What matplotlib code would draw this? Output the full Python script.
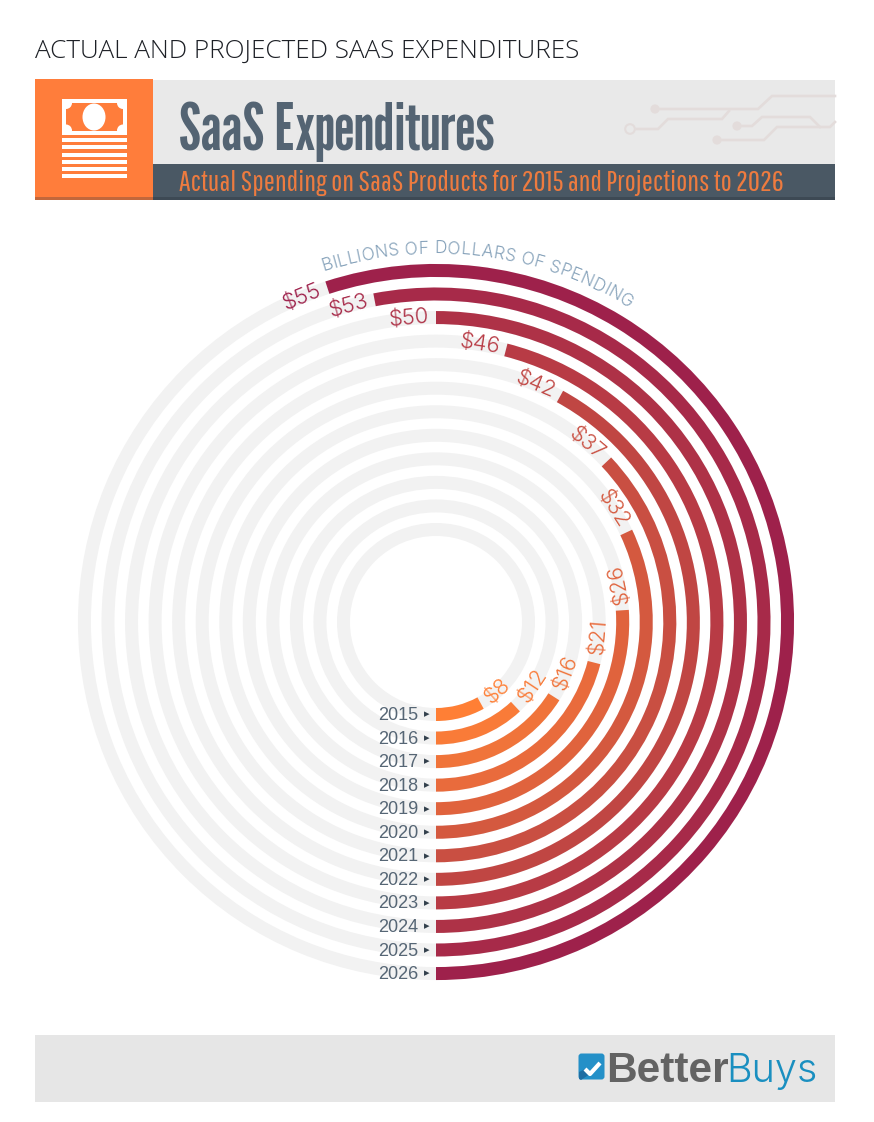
import numpy as np
import matplotlib
matplotlib.use("Agg")
import matplotlib.pyplot as plt
from matplotlib.patches import Rectangle, Ellipse, Circle, FancyBboxPatch, Polygon

W, H = 874, 1122
DPI = 100

years = [2015, 2016, 2017, 2018, 2019, 2020, 2021, 2022, 2023, 2024, 2025, 2026]
spending = [8, 12, 16, 21, 26, 32, 37, 42, 46, 50, 53, 55]
ring_colors = ["#ff7f35", "#f97b38", "#f0743a", "#e96b3c", "#e0633d", "#d4593f",
               "#c94f42", "#c04643", "#b83b45", "#ae3247", "#a72a49", "#9e214b"]

PAGE_TITLE = "ACTUAL AND PROJECTED SAAS EXPENDITURES"
HEAD = "SaaS Expenditures"
SUBHEAD = "Actual Spending on SaaS Products for 2015 and Projections to 2026"
ARC_TITLE = "BILLIONS OF DOLLARS OF SPENDING"

CX, CY = 436, 622
RMAX = 400
R0 = 92.5
STEP = 23.55
RING_W = 13.0
LIGHT = ["Inter", "Liberation Sans"]

fig = plt.figure(figsize=(W / DPI, H / DPI), dpi=DPI, facecolor="white")

# page furniture is laid out in pixels, y downwards
bg = fig.add_axes([0, 0, 1, 1])
bg.set_xlim(0, W)
bg.set_ylim(H, 0)
bg.axis("off")


def rect(x0, y0, x1, y1, color):
    return bg.add_patch(Rectangle((x0, y0), x1 - x0, y1 - y0, fc=color, ec="none"))


bg.text(35, 58, PAGE_TITLE, fontsize=18.8, family="Open Sans", fontweight=300,
        color="#1d2026", va="baseline")

# header band
rect(35, 80, 835, 164, "#e9e9e9")
rect(153, 164, 835, 198, "#4a5864")
rect(153, 197, 835, 200, "#3d4954")
rect(35, 79, 153, 197, "#ff7d3b")
rect(35, 197, 153, 200, "#c2673b")

# circuit decoration
for xs, ys in [
    ([655, 758, 772, 835], [109, 109, 96, 96]),
    ([637, 658, 668, 722, 729], [129, 129, 119, 119, 111]),
    ([737, 752, 762, 810, 820], [126, 126, 117, 117, 127]),
    ([717, 764, 777, 830, 835], [140, 140, 127, 127, 122]),
]:
    bg.plot(xs, ys, color="#e3dcdb", lw=1.9, solid_joinstyle="miter")
for x, y in [(655, 109), (737, 126), (717, 140)]:
    bg.add_patch(Circle((x, y), 4.6, fc="#e3dcdb", ec="none"))
bg.add_patch(Circle((630, 129), 4.8, fc="#e9e9e9", ec="#e3dcdb", lw=1.5))

# money icon
rect(62, 99, 127, 135, "white")
note = rect(66, 103, 123, 130.5, "#ff7d3b")
for x, y in [(66, 103), (123, 103), (66, 130.5), (123, 130.5)]:
    c = bg.add_patch(Circle((x, y), 6, fc="white", ec="none"))
    c.set_clip_path(note)
bg.add_patch(Ellipse((94, 117), 23, 27, fc="white", ec="none"))
for y in [140, 147, 155, 162, 169, 176]:
    rect(62, y - 1.6, 127, y + 1.6, "white")

bg.text(179, 150, HEAD, fontsize=46.7, family=["League Gothic", "Liberation Sans"],
        color="#546473", va="baseline")
bg.text(179, 191, SUBHEAD, fontsize=21.2, family=["Pathway Gothic One", "Liberation Sans"],
        color="#ee7b3f", va="baseline")

# footer with logo
rect(35, 1035, 835, 1102, "#e6e6e6")
bg.add_patch(FancyBboxPatch((580, 1055), 23, 23, boxstyle="round,pad=1.5,rounding_size=3",
                            fc="#2490c8", ec="none"))
bg.add_patch(Polygon([(579, 1072), (585, 1069), (590, 1074), (581, 1080), (579, 1079)],
                     fc="#1f6ea3", ec="none"))
bg.plot([585, 590, 600], [1069, 1074, 1063], color="white", lw=3, solid_capstyle="butt")
bg.text(606, 1082, "Better", fontsize=30.6, family="Liberation Sans", fontweight="bold",
        color="#636363", va="baseline")
bg.text(726, 1082, "Buys", fontsize=28.5, family=LIGHT, fontweight=300, color="#1a8fc0", va="baseline")

# radial chart
ax = fig.add_axes([(CX - RMAX) / W, (H - CY - RMAX) / H, 2 * RMAX / W, 2 * RMAX / H],
                  projection="polar")
ax.set_theta_zero_location("S")
ax.set_theta_direction(1)
ax.set_rlim(0, RMAX)
ax.grid(False)
ax.set_xticks([])
ax.set_yticks([])
ax.spines["polar"].set_visible(False)
ax.patch.set_visible(False)

for i, (year, val, col) in enumerate(zip(years, spending, ring_colors)):
    r = R0 + i * STEP
    end = np.deg2rad(val * 3.6)
    ax.bar(np.pi, RING_W, width=2 * np.pi, bottom=r - RING_W / 2, color="#f2f2f2", lw=0)
    ax.bar(end / 2, RING_W, width=end, bottom=r - RING_W / 2, color=col, lw=0)

    ax.annotate(str(year), xy=(0, r), xytext=(-18, -1), textcoords="offset pixels",
                ha="right", va="center", fontsize=13, family="Liberation Sans", color="#566675")
    ax.annotate("\u25b8", xy=(0, r), xytext=(-9, 0), textcoords="offset pixels",
                ha="center", va="center", fontsize=8, family="DejaVu Sans", color="#33404c")

    gap = 21 if val < 10 else 27
    theta = end + gap / r
    deg = np.rad2deg(theta)
    rot = deg if deg <= 105 else deg - 180
    ax.text(theta, r, f"${val}", rotation=rot, rotation_mode="anchor", ha="center", va="center",
            fontsize=15.8, family=LIGHT, fontweight=300, color=col)

# curved caption, one glyph at a time
renderer = fig.canvas.get_renderer()
measure = bg.text(0, 0, "", fontsize=12.5, family=LIGHT, fontweight=300)


def text_w(s):
    measure.set_text(s)
    return measure.get_window_extent(renderer).width


total = text_w(ARC_TITLE)
start, stop = np.deg2rad(180 + 17.9), np.deg2rad(180 - 31.7)
for i, ch in enumerate(ARC_TITLE):
    if ch == " ":
        continue
    mid = (text_w(ARC_TITLE[:i + 1]) - text_w(ch) / 2) / total
    t = start + (stop - start) * mid
    ax.text(t, 368.5, ch, rotation=np.rad2deg(t) - 180, rotation_mode="anchor", ha="center",
            va="baseline", fontsize=12.5, family=LIGHT, fontweight=300, color="#86a2ba")
measure.remove()

fig.savefig("out.png", dpi=DPI)
